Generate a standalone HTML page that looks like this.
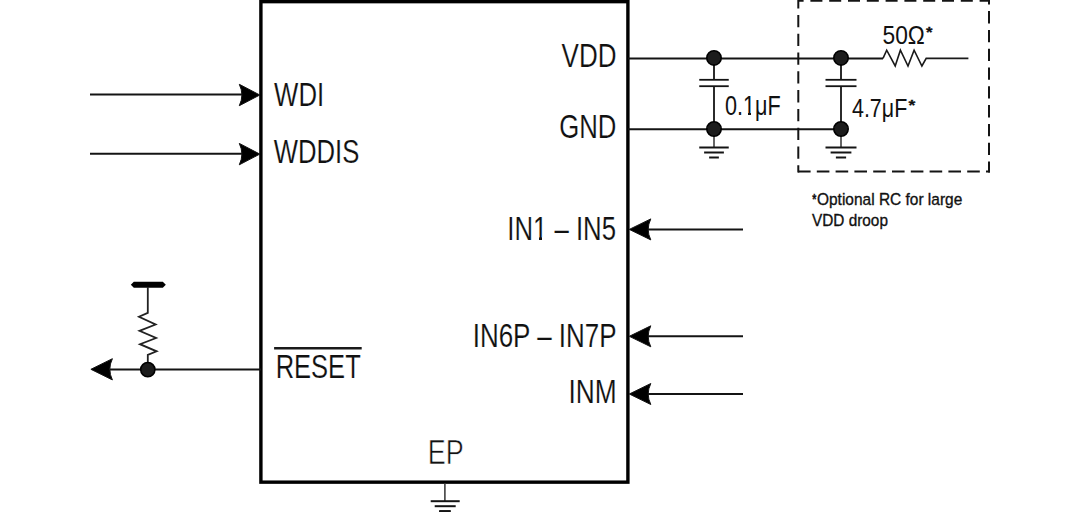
<!DOCTYPE html>
<html><head><meta charset="utf-8"><style>
html,body{margin:0;padding:0;background:#fff;width:1080px;height:512px;overflow:hidden}
svg{display:block}
text{font-family:"Liberation Sans",sans-serif;fill:#111}
.note{stroke:#111;stroke-width:0.35px}
.ast{font-weight:bold;stroke:#111;stroke-width:0.3px}
.big{stroke:#fff;stroke-width:0.15px}
.ep{stroke:#fff;stroke-width:0.6px}
</style></head><body>
<svg width="1080" height="512" viewBox="0 0 1080 512">
<g stroke="#141414" fill="#000" stroke-linecap="butt">
<rect x="260.9" y="1.65" width="367" height="480.5" fill="none" stroke="#000" stroke-width="3.4"/>
<line x1="90" y1="94.6" x2="243" y2="94.6" stroke-width="2"/>
<path d="M259.8 95.0 L239.3 84.3 Q244.5 95.0 239.3 105.7 Z"/>
<line x1="90" y1="153.8" x2="243" y2="153.8" stroke-width="2"/>
<path d="M259.8 154.1 L239.3 143.4 Q244.5 154.1 239.3 164.79999999999998 Z"/>
<line x1="645" y1="229.4" x2="743" y2="229.4" stroke-width="2"/>
<path d="M629.3 229.4 L650.8 218.9 Q645.5999999999999 229.4 650.8 239.9 Z"/>
<line x1="645" y1="336.3" x2="743" y2="336.3" stroke-width="2"/>
<path d="M629.3 336.3 L650.8 325.8 Q645.5999999999999 336.3 650.8 346.8 Z"/>
<line x1="645" y1="394.0" x2="743" y2="394.0" stroke-width="2"/>
<path d="M629.3 394.0 L650.8 383.5 Q645.5999999999999 394.0 650.8 404.5 Z"/>
<line x1="628" y1="58.4" x2="883" y2="58.4" stroke-width="2"/>
<polyline fill="none" points="883,58.4 886.7,50.2 895.2,66 900.4,50.2 908,66 914.1,50.2 921.9,66 926.2,58.4 968.4,58.4" stroke-width="1.6" stroke="#1a1a1a"/>
<line x1="628" y1="129.2" x2="841" y2="129.2" stroke-width="2"/>
<line x1="714" y1="58.4" x2="714" y2="79.8" stroke-width="1.8"/>
<line x1="699.25" y1="79.8" x2="728.75" y2="79.8" stroke-width="1.8"/>
<line x1="699.25" y1="86.2" x2="728.75" y2="86.2" stroke-width="1.8"/>
<line x1="714" y1="86.2" x2="714" y2="129.2" stroke-width="1.8"/>
<line x1="714" y1="129.2" x2="714" y2="147.4" stroke-width="1.5" stroke="#333"/>
<line x1="699.25" y1="147.5" x2="728.75" y2="147.5" stroke-width="2"/><line x1="704.1175" y1="152.5" x2="723.8825" y2="152.5" stroke-width="2"/><line x1="709.1325" y1="157.5" x2="718.8675" y2="157.5" stroke-width="2"/>
<circle cx="714" cy="57.9" r="7.2" fill="#1c1c1c" stroke="#000" stroke-width="1.6"/>
<circle cx="714" cy="129.0" r="7.2" fill="#1c1c1c" stroke="#000" stroke-width="1.6"/>
<line x1="841" y1="58.4" x2="841" y2="79.8" stroke-width="1.8"/>
<line x1="825.5" y1="79.8" x2="856.5" y2="79.8" stroke-width="1.8"/>
<line x1="825.5" y1="86.2" x2="856.5" y2="86.2" stroke-width="1.8"/>
<line x1="841" y1="86.2" x2="841" y2="129.2" stroke-width="1.8"/>
<line x1="841" y1="129.2" x2="841" y2="147.4" stroke-width="1.5" stroke="#333"/>
<line x1="825.5" y1="147.5" x2="856.5" y2="147.5" stroke-width="2"/><line x1="830.615" y1="152.5" x2="851.385" y2="152.5" stroke-width="2"/><line x1="835.885" y1="157.5" x2="846.115" y2="157.5" stroke-width="2"/>
<circle cx="841" cy="57.9" r="7.2" fill="#1c1c1c" stroke="#000" stroke-width="1.6"/>
<circle cx="841" cy="129.0" r="7.2" fill="#1c1c1c" stroke="#000" stroke-width="1.6"/>
<line x1="798" y1="0.8" x2="989.5" y2="0.8" stroke-dasharray="12 6.8" stroke-width="2" stroke-dashoffset="6.4"/>
<line x1="798.3" y1="0" x2="798.3" y2="172.5" stroke-dasharray="12.3 6.5" stroke-width="2" stroke-dashoffset="3.9"/>
<line x1="989" y1="0" x2="989" y2="172.5" stroke-dasharray="12.3 6.5" stroke-width="2" stroke-dashoffset="7.7"/>
<line x1="797.3" y1="171.5" x2="990" y2="171.5" stroke-dasharray="12.6 6.2" stroke-width="2" stroke-dashoffset="18.1"/>
<line x1="110" y1="369.4" x2="261" y2="369.4" stroke-width="2"/>
<path d="M90.9 369.3 L112.4 358.7 Q107.2 369.3 112.4 379.90000000000003 Z"/>
<path stroke="none" d="M130.8 284.8 L133.8 281.8 L162.8 281.8 L165.8 284.8 L162.8 287.8 L133.8 287.8 Z"/>
<polyline fill="none" stroke="#222" stroke-width="1.8" stroke-linejoin="miter" points="147.8,287 147.8,312.8 139,316.7 155.6,324.5 139.5,330.8 156.1,338 140,344.2 156.6,351.3 147.8,354.8 147.8,369.5"/>
<circle cx="147.8" cy="369.6" r="7.1" fill="#1c1c1c" stroke="#000" stroke-width="1.6"/>
<line x1="274.1" y1="348.3" x2="361.7" y2="348.3" stroke-width="2.4" stroke="#1a1a1a"/>
<line x1="444.9" y1="483" x2="444.9" y2="501.2" stroke-width="1.5" stroke="#333"/>
<line x1="430.7" y1="501.2" x2="459.7" y2="501.2" stroke-width="2"/><line x1="434.7" y1="506.2" x2="455.7" y2="506.2" stroke-width="2"/><line x1="439.7" y1="511.2" x2="450.7" y2="511.2" stroke-width="2"/>
<line x1="439" y1="511.5" x2="450.5" y2="511.5" stroke-width="2.5"/>
</g>
<g stroke="none">
<text class="big" transform="translate(274.1 106.3) scale(0.7891 1)" font-size="32.6">WDI</text>
<text class="big" transform="translate(273.8 163) scale(0.7665 1)" font-size="33.48">WDDIS</text>
<text class="big" transform="translate(561.6 66.82) scale(0.7992 1)" font-size="32.52">VDD</text>
<text class="big" transform="translate(559.28 138.2) scale(0.7823 1)" font-size="32.9">GND</text>
<text class="big" transform="translate(507.29 240) scale(0.7847 1)" font-size="32.8">IN1 – IN5</text>
<text class="big" transform="translate(472.67 347) scale(0.7794 1)" font-size="33.34">IN6P – IN7P</text>
<text class="big" transform="translate(568.53 403.12) scale(0.7938 1)" font-size="33.15">INM</text>
<text class="big" transform="translate(275.65 378) scale(0.7756 1)" font-size="32.9">RESET</text>
<text class="ep" transform="translate(427.85 464) scale(0.7845 1)" font-size="34.37">EP</text>
<text class="mid" transform="translate(882.48 44) scale(0.8554 1)" font-size="26.6">50Ω</text>
<text class="mid" transform="translate(724.97 115) scale(0.7966 1)" font-size="27.14">0.1μF</text>
<text class="mid" transform="translate(851.98 116.7) scale(0.8105 1)" font-size="26.48">4.7μF</text>
<text class="note" transform="translate(817.0 205.4) scale(0.9207 1)" font-size="16.81">Optional RC for large</text>
<text class="note" transform="translate(811.98 226) scale(0.9112 1)" font-size="16.87">VDD droop</text>
<text class="ast" transform="translate(926.0 36.58) scale(1.1635 1)" font-size="14.32">*</text>
<text class="ast" transform="translate(908.6 109.76) scale(1.173 1)" font-size="14.86">*</text>
<text class="ast" transform="translate(812.2 203.97) scale(0.7203 1)" font-size="14.59">*</text>
</g>
<g fill="#fff" stroke="none">
<rect x="533" y="237" width="6" height="3"/><rect x="542" y="237" width="6" height="3"/>
<rect x="743.5" y="113" width="4.5" height="2"/><rect x="751" y="113" width="4" height="2"/>
</g>
</svg></body></html>
